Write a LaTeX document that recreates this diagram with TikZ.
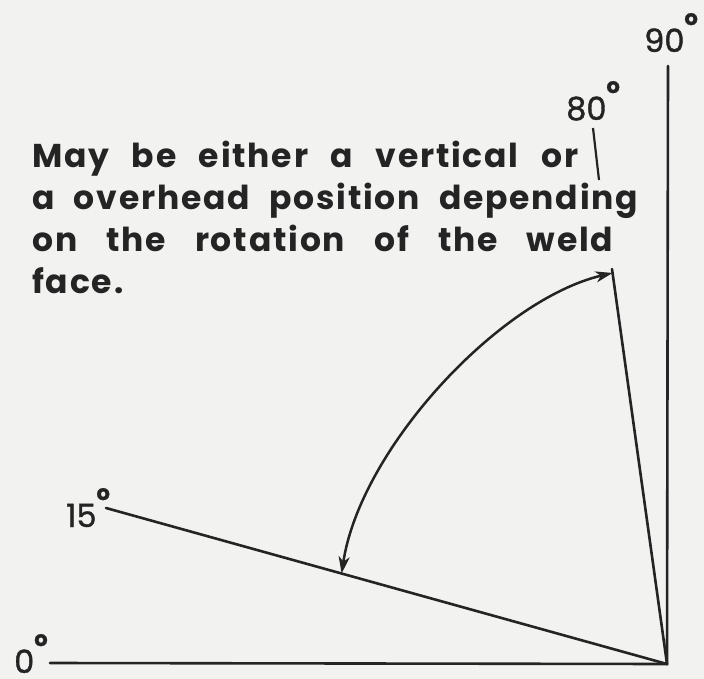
\documentclass[tikz,border=0pt]{standalone}
\usepackage{fontspec}
\setmainfont{Poppins}
\newfontfamily\notefont[LetterSpace=5.5,WordSpace=2.4]{Poppins}
\newfontfamily\numfont[FakeBold=1.2]{Poppins}
\usetikzlibrary{arrows.meta, calc}
\definecolor{paper}{HTML}{F2F2F0}
\definecolor{ink}{HTML}{242424}
\newcommand{\dg}{\rlap{\raisebox{27pt}{\fontsize{21}{21}\selectfont\bfseries o}}}
\newcommand{\spread}[2]{\hbox to #1{#2}}
\hbadness=10000
\tikzset{
  ray/.style={draw=ink, line width=2.6pt, line cap=round},
  tickline/.style={draw=ink, line width=2.2pt},
  swing/.style={{Stealth[length=17pt,width=11pt,inset=5pt]}-{Stealth[length=17pt,width=11pt,inset=5pt]}, draw=ink, line width=2.5pt},
  deg/.style={font=\numfont\fontsize{32}{32}\selectfont, text=ink, inner sep=0pt, anchor=base west},
  note/.style={font=\notefont\fontsize{33}{42}\selectfont\bfseries, text=ink, inner sep=0pt, align=left, anchor=base west},
}
\begin{document}
\begin{tikzpicture}[x=1pt, y=-1pt]

% ===== Paper =====
\fill[paper] (0,0) rectangle (704,679);
\useasboundingbox (0,0) rectangle (704,679);

% ===== Rays from the root =====
\coordinate (O)   at (667,664);
\coordinate (e0)  at (50,663);
\coordinate (e15) at (106,508);
\coordinate (e80) at (612,269);
\coordinate (e90) at (668,66);
\draw[ray] (e0) -- (O) -- (e90);
\draw[ray] (O) -- (e15);
\draw[ray] (O) -- (e80);

% ===== Swing between 15 and 80 =====
\coordinate (s1) at ($(O)!0.58!(e15)$);
\coordinate (s2) at ($(O)!0.99!(e80)$);
\draw[swing] (s1) .. controls (360,450) and (498,300) .. (s2);

% ===== Angle labels =====
\node[deg] (l0)  at (14,673)  {0\dg};
\node[deg] (l15) at (66,527)  {15\dg};
\node[deg] (l80) at (566,120) {80\dg};
\node[deg] (l90) at (644,52)  {90\dg};

% ===== Note (anchored on its last line) =====
\node[note] (note) at (32,293) {\spread{546pt}{May be either a vertical or}\\
  \spread{606pt}{a overhead position depending}\\
  \spread{581pt}{on the rotation of the weld}\\
  face.};
\coordinate (t1) at (593,128);
\coordinate (t2) at (599,180);
\draw[tickline] (t1) -- (t2);

\end{tikzpicture}
\end{document}
